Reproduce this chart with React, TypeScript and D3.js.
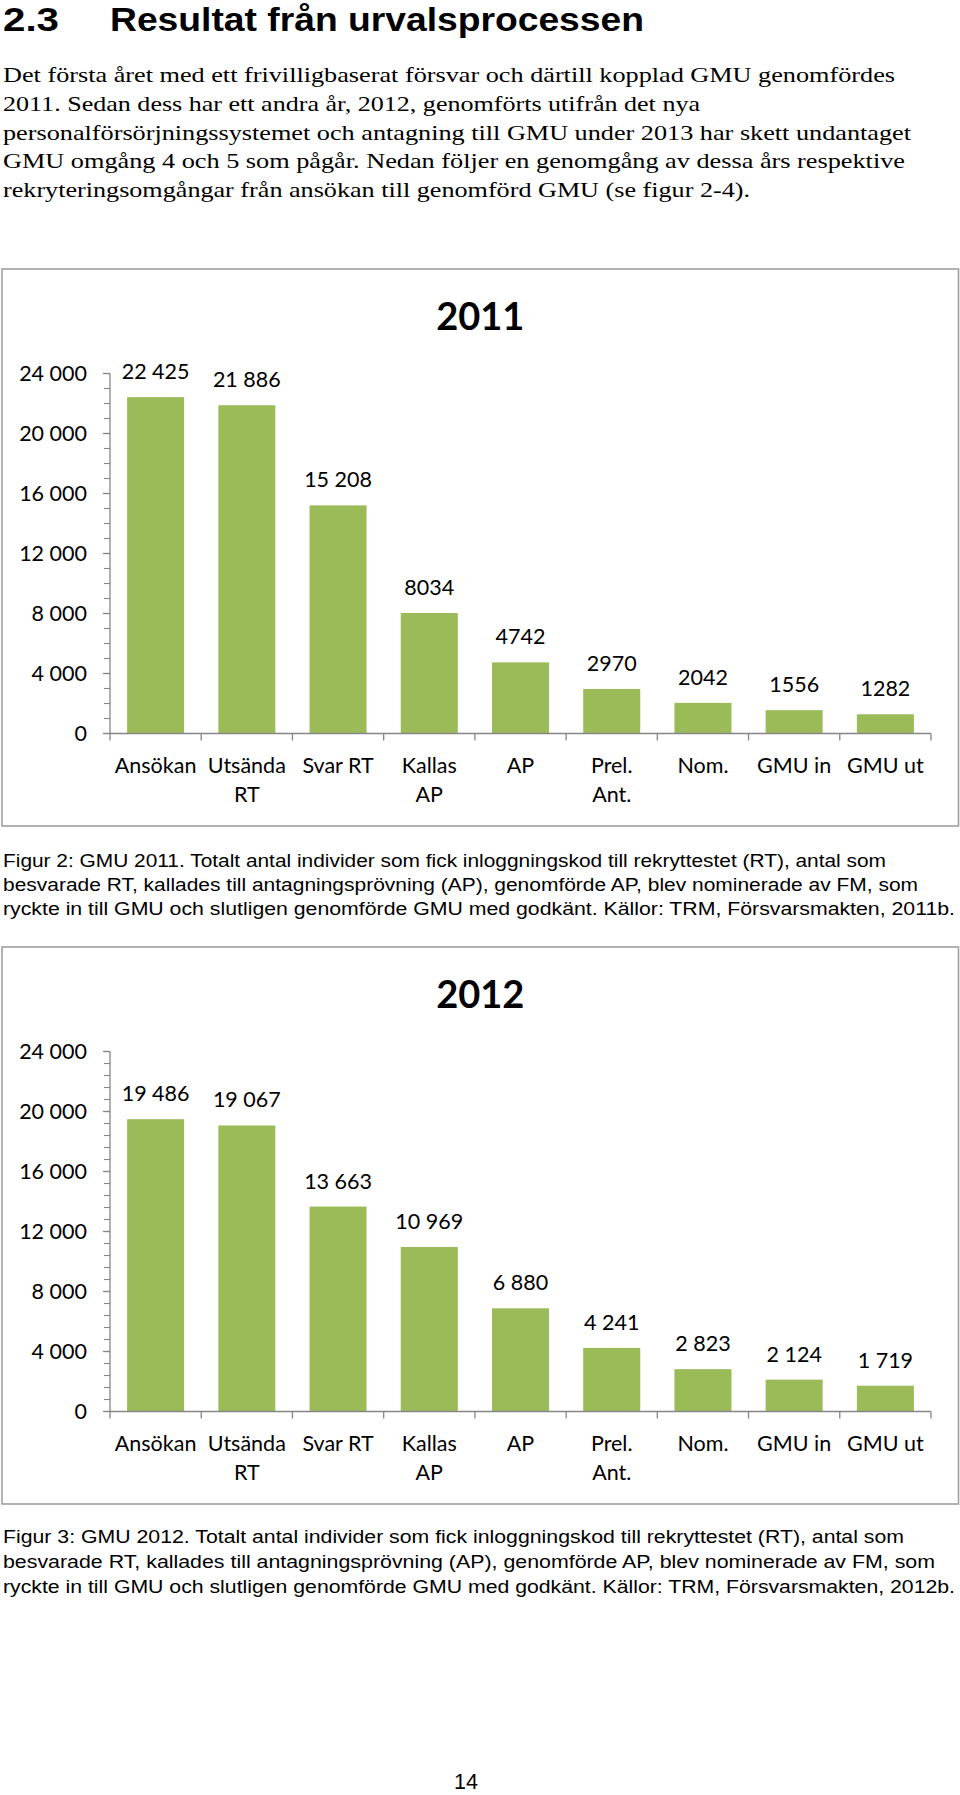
import React from "react";
import * as d3 from "d3";

// ---------- data ----------
const categories = ["Ansökan", "Utsända\nRT", "Svar RT", "Kallas\nAP", "AP", "Prel.\nAnt.", "Nom.", "GMU in", "GMU ut"];

const values2011 = [22425, 21886, 15208, 8034, 4742, 2970, 2042, 1556, 1282];
const labels2011 = ["22 425", "21 886", "15 208", "8034", "4742", "2970", "2042", "1556", "1282"];

const values2012 = [19486, 19067, 13663, 10969, 6880, 4241, 2823, 2124, 1719];
const labels2012 = ["19 486", "19 067", "13 663", "10 969", "6 880", "4 241", "2 823", "2 124", "1 719"];

const yTicks = [0, 4000, 8000, 12000, 16000, 20000, 24000];
const yTickLabels = ["0", "4 000", "8 000", "12 000", "16 000", "20 000", "24 000"];

const headingNumber = "2.3";
const headingText = "Resultat från urvalsprocessen";

const paragraphLines = [
  "Det första året med ett frivilligbaserat försvar och därtill kopplad GMU genomfördes",
  "2011. Sedan dess har ett andra år, 2012, genomförts utifrån det nya",
  "personalförsörjningssystemet och antagning till GMU under 2013 har skett undantaget",
  "GMU omgång 4 och 5 som pågår. Nedan följer en genomgång av dessa års respektive",
  "rekryteringsomgångar från ansökan till genomförd GMU (se figur 2-4).",
];
const paragraphEnds = [895, 700, 911, 905, 750];

const caption1Lines = [
  "Figur 2: GMU 2011. Totalt antal individer som fick inloggningskod till rekryttestet (RT), antal som",
  "besvarade RT, kallades till antagningsprövning (AP), genomförde AP, blev nominerade av FM, som",
  "ryckte in till GMU och slutligen genomförde GMU med godkänt. Källor: TRM, Försvarsmakten, 2011b.",
];
const caption1Ends = [886, 918, 955];

const caption2Lines = [
  "Figur 3: GMU 2012. Totalt antal individer som fick inloggningskod till rekryttestet (RT), antal som",
  "besvarade RT, kallades till antagningsprövning (AP), genomförde AP, blev nominerade av FM, som",
  "ryckte in till GMU och slutligen genomförde GMU med godkänt. Källor: TRM, Försvarsmakten, 2012b.",
];
const caption2Ends = [904, 935, 955];

const pageNumber = "14";

// ---------- styles ----------
const GREEN = "#9bbb59";
const AXIS = "#868686";
const BORDER = "#a0a0a0";
const CHART_FONT = "Lato, 'Open Sans', sans-serif";
const SERIF = "'Liberation Serif', 'Times New Roman', serif";
const SANS = "'Liberation Sans', Arial, sans-serif";
const LABEL_SIZE = 21.5;

type ChartProps = {
  top: number;
  title: string;
  values: number[];
  labels: string[];
  minorStep: number;
};

function BarChart({ top, title, values, labels, minorStep }: ChartProps) {
  const boxLeft = 2;
  const boxRight = 958.5;
  const boxBottom = top + 557;
  const x0 = 110;
  const x1 = 931;
  const y = d3.scaleLinear().domain([0, 24000]).range([top + 464.5, top + 104.5]);
  const x = d3
    .scaleBand<string>()
    .domain(categories)
    .range([x0, x1])
    .paddingInner(0.375)
    .paddingOuter(0.1875);
  const step = x.step();
  const minorTicks = d3.range(0, 24000 + 1, minorStep);
  const catTicks = d3.range(0, categories.length + 1).map((i) => x0 + i * step);

  return (
    <g>
      <rect
        x={boxLeft}
        y={top}
        width={boxRight - boxLeft}
        height={boxBottom - top}
        fill="#fff"
        stroke={BORDER}
        strokeWidth={1.6}
      />
      <text
        x={(boxLeft + boxRight) / 2}
        y={top + 60.5}
        textAnchor="middle"
        fontFamily={CHART_FONT}
        fontWeight={700}
        fontSize={38}
        fill="#000"
      >
        {title}
      </text>

      {/* bars */}
      {values.map((v, i) => (
        <rect
          key={"b" + i}
          x={x(categories[i])}
          y={y(v)}
          width={x.bandwidth()}
          height={y(0) - y(v)}
          fill={GREEN}
        />
      ))}

      {/* value labels */}
      {values.map((v, i) => (
        <text
          key={"v" + i}
          x={(x(categories[i]) as number) + x.bandwidth() / 2}
          y={y(v) - 18}
          textAnchor="middle"
          fontFamily={CHART_FONT}
          fontSize={LABEL_SIZE}
          fill="#000"
        >
          {labels[i]}
        </text>
      ))}

      {/* y axis */}
      <line x1={x0} x2={x0} y1={y(24000)} y2={y(0)} stroke={AXIS} strokeWidth={1.3} />
      {minorTicks.map((t) => (
        <line key={"m" + t} x1={x0 - 6} x2={x0} y1={y(t)} y2={y(t)} stroke={AXIS} strokeWidth={1.1} />
      ))}
      {yTicks.map((t) => (
        <line key={"M" + t} x1={x0 - 7} x2={x0} y1={y(t)} y2={y(t)} stroke={AXIS} strokeWidth={1.3} />
      ))}
      {yTicks.map((t, i) => (
        <text
          key={"yl" + t}
          x={87}
          y={y(t)}
          dy="0.36em"
          textAnchor="end"
          fontFamily={CHART_FONT}
          fontSize={LABEL_SIZE}
          fill="#000"
        >
          {yTickLabels[i]}
        </text>
      ))}

      {/* x axis */}
      <line x1={x0} x2={x1} y1={y(0)} y2={y(0)} stroke={AXIS} strokeWidth={1.3} />
      {catTicks.map((cx, i) => (
        <line key={"c" + i} x1={cx} x2={cx} y1={y(0)} y2={y(0) + 7} stroke={AXIS} strokeWidth={1.3} />
      ))}
      {categories.map((c) => {
        const cx = (x(c) as number) + x.bandwidth() / 2;
        return c.split("\n").map((line, j) => (
          <text
            key={c + j}
            x={cx}
            y={y(0) + 39.5 + j * 28.5}
            textAnchor="middle"
            fontFamily={CHART_FONT}
            fontSize={LABEL_SIZE}
            fill="#000"
          >
            {line}
          </text>
        ));
      })}
    </g>
  );
}

function TextBlock({
  lines,
  ends,
  x,
  y0,
  lh,
  font,
  size,
}: {
  lines: string[];
  ends: number[];
  x: number;
  y0: number;
  lh: number;
  font: string;
  size: number;
}) {
  return (
    <g>
      {lines.map((l, i) => (
        <text
          key={i}
          x={x}
          y={y0 + i * lh}
          fontFamily={font}
          fontSize={size}
          fill="#000"
          textLength={ends[i] - x}
          lengthAdjust="spacingAndGlyphs"
        >
          {l}
        </text>
      ))}
    </g>
  );
}

export default function App() {
  return (
    <svg
      width={960}
      height={1795}
      viewBox="0 0 960 1795"
      style={{ position: "absolute", left: 0, top: 0, display: "block", background: "#fff" }}
    >
      <rect x={0} y={0} width={960} height={1795} fill="#fff" />
      {/* heading */}
      <text x={3} y={31} fontFamily={SANS} fontWeight={700} fontSize={33} fill="#000" textLength={56} lengthAdjust="spacingAndGlyphs">
        {headingNumber}
      </text>
      <text x={110} y={31} fontFamily={SANS} fontWeight={700} fontSize={33} fill="#000" textLength={534} lengthAdjust="spacingAndGlyphs">
        {headingText}
      </text>

      <TextBlock lines={paragraphLines} ends={paragraphEnds} x={3} y0={82.3} lh={28.7} font={SERIF} size={21.5} />

      <BarChart top={269} title="2011" values={values2011} labels={labels2011} minorStep={1000} />

      <TextBlock lines={caption1Lines} ends={caption1Ends} x={3} y0={866.7} lh={24.3} font={SANS} size={17.5} />

      <BarChart top={947} title="2012" values={values2012} labels={labels2012} minorStep={800} />

      <TextBlock lines={caption2Lines} ends={caption2Ends} x={3} y0={1543} lh={25} font={SANS} size={17.5} />

      <text x={454} y={1789} fontFamily={SANS} fontSize={22} fill="#000" textLength={24} lengthAdjust="spacingAndGlyphs">
        {pageNumber}
      </text>
    </svg>
  );
}
